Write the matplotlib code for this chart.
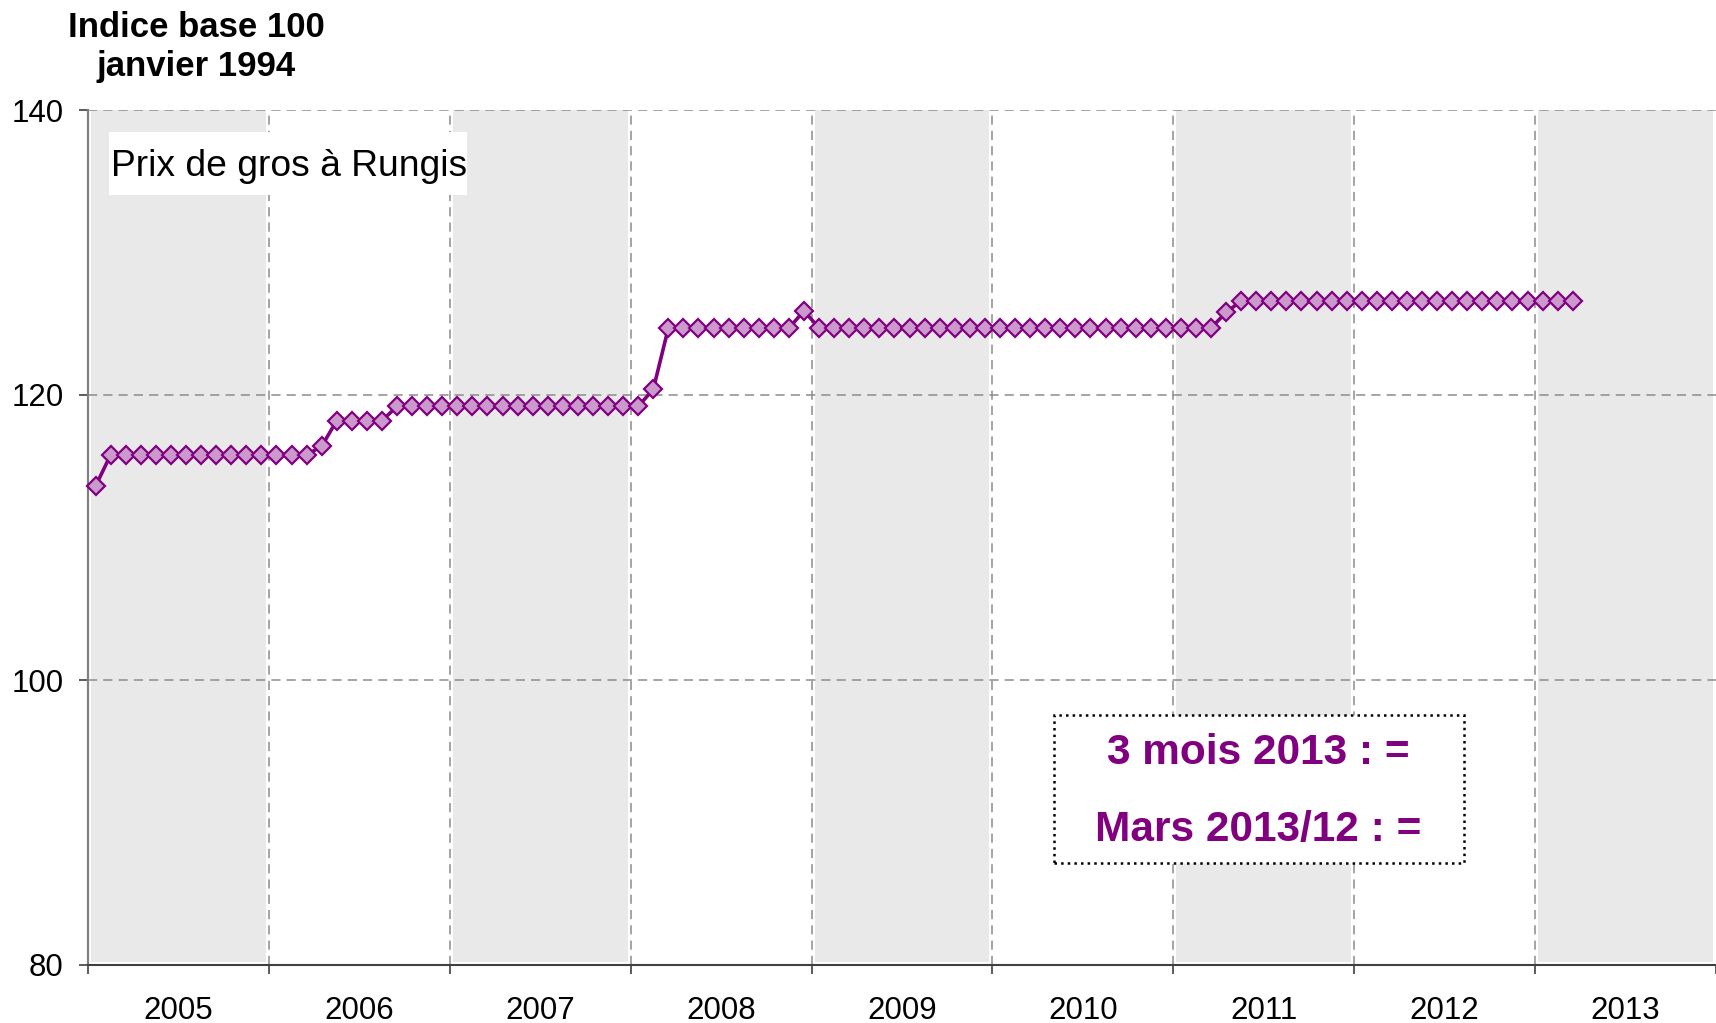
import numpy as np
import matplotlib
matplotlib.use('Agg')
import matplotlib.pyplot as plt
from matplotlib.patches import Rectangle

plt.rcParams['font.family'] = ['Liberation Sans', 'DejaVu Sans']

# indice mensuel, janvier 2005 -> mars 2013
years = [2005, 2006, 2007, 2008, 2009, 2010, 2011, 2012, 2013]
rungis = [113.6, 115.8, 115.8, 115.8, 115.8, 115.8, 115.8, 115.8, 115.8, 115.8, 115.8, 115.8,
          115.8, 115.8, 115.8, 116.4, 118.2, 118.2, 118.2, 118.2, 119.2, 119.2, 119.2, 119.2,
          119.2, 119.2, 119.2, 119.2, 119.2, 119.2, 119.2, 119.2, 119.2, 119.2, 119.2, 119.2,
          119.2, 120.4, 124.7, 124.7, 124.7, 124.7, 124.7, 124.7, 124.7, 124.7, 124.7, 125.9,
          124.7, 124.7, 124.7, 124.7, 124.7, 124.7, 124.7, 124.7, 124.7, 124.7, 124.7, 124.7,
          124.7, 124.7, 124.7, 124.7, 124.7, 124.7, 124.7, 124.7, 124.7, 124.7, 124.7, 124.7,
          124.7, 124.7, 124.7, 125.8, 126.6, 126.6, 126.6, 126.6, 126.6, 126.6, 126.6, 126.6,
          126.6, 126.6, 126.6, 126.6, 126.6, 126.6, 126.6, 126.6, 126.6, 126.6, 126.6, 126.6,
          126.6, 126.6, 126.6]
y_ticks = [80, 100, 120, 140]
titre = 'Indice base 100\njanvier 1994'
etiquette = 'Prix de gros à Rungis'
note = ['3 mois 2013 : =', 'Mars 2013/12 : =']

W, H = 1716, 1023
fig = plt.figure(figsize=(W / 100, H / 100), dpi=100)
ax = fig.add_axes([88 / W, 58 / H, 1628 / W, 855 / H])

nb = 12 * len(years)
x = np.arange(len(rungis)) + 0.5

# bandes grises une annee sur deux
for i, yr in enumerate(years):
    if i % 2 == 0:
        ax.axvspan(12 * i + 0.2, 12 * (i + 1) - 0.2, ymin=0.003, color='#e9e9e9', lw=0, zorder=0)

ax.plot(x, rungis, color='#800080', lw=2.6, marker='D', ms=9,
        mfc='#cc99cc', mec='#800080', mew=1.6, zorder=3, clip_on=False)

ax.set_xlim(0, nb)
ax.set_ylim(80, 140)
ax.set_yticks(y_ticks)
ax.set_xticks(np.arange(0, nb + 1, 12))
ax.set_xticklabels([])
ax.set_xticks(np.arange(6, nb, 12), minor=True)
ax.set_xticklabels([str(y) for y in years], minor=True)

ax.tick_params(axis='x', which='major', length=6.5, width=1.2, direction='out', color='#404040')
ax.tick_params(axis='x', which='minor', length=0, pad=22, labelsize=22.5)
ax.tick_params(axis='y', length=6.5, width=1.2, pad=11, labelsize=22.5, color='#404040')
ax.grid(True, which='major', color='#8c8c8c', ls=(0, (6, 4)), lw=1.1)
xg = ax.get_xgridlines()
xg[0].set_visible(False)
xg[-1].set_visible(False)

ax.spines['top'].set_visible(False)
ax.spines['right'].set_visible(False)
ax.spines['left'].set_color('#808080')
ax.spines['left'].set_linewidth(1.6)
ax.spines['bottom'].set_color('#404040')
ax.spines['bottom'].set_linewidth(1.5)

# titre de l'axe
fig.text(196 / W, 1 - 47 / H, titre, fontsize=25, fontweight='bold',
         ha='center', va='center', multialignment='center', linespacing=1.2)

# etiquette de la serie
fig.add_artist(Rectangle((109 / W, 1 - 195 / H), 358 / W, 63 / H, transform=fig.transFigure,
                         fc='white', ec='none', zorder=2))
fig.text(289 / W, 1 - 167 / H, etiquette, fontsize=26.8, ha='center', va='center', zorder=3)

# encadre evolution
fig.add_artist(Rectangle((1054 / W, 1 - 863 / H), 410 / W, 148 / H, transform=fig.transFigure,
                         fc='white', ec='black', ls=':', lw=1.8, zorder=2))
fig.text(1258 / W, 1 - 753 / H, note[0], fontsize=30.5, fontweight='bold', color='#800080',
         ha='center', va='center', zorder=3)
fig.text(1258 / W, 1 - 830 / H, note[1], fontsize=30.5, fontweight='bold', color='#800080',
         ha='center', va='center', zorder=3)

fig.savefig('out.png', dpi=100)
